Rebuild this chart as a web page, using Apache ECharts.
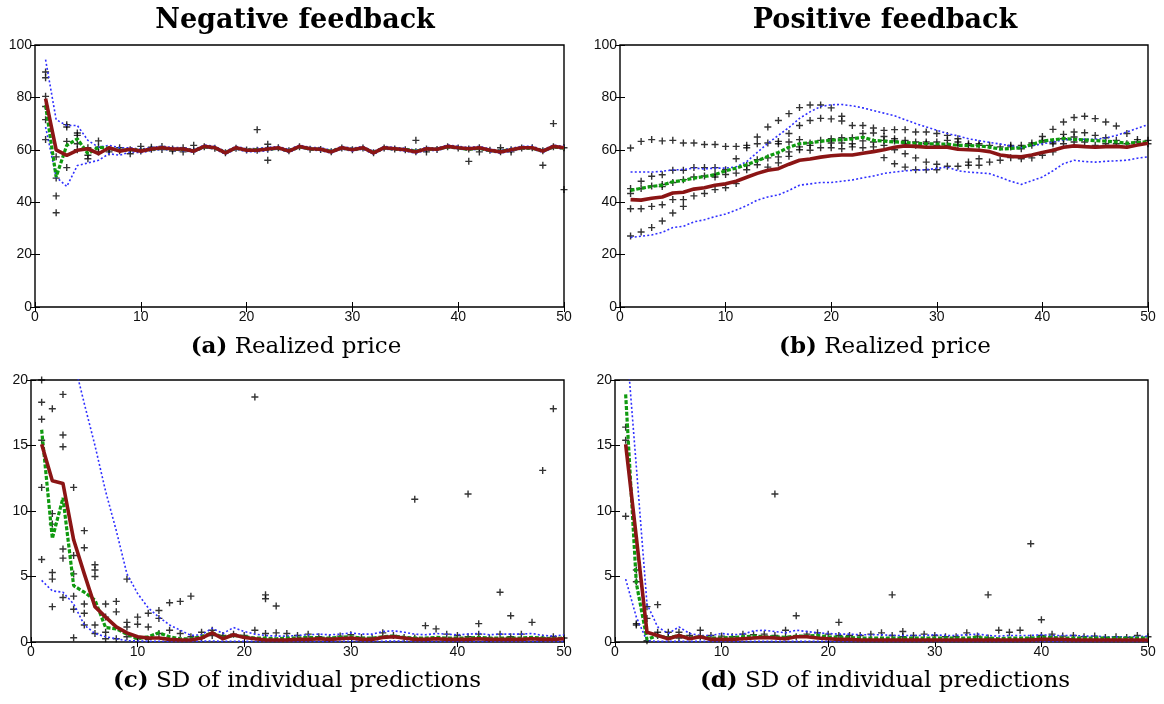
<!DOCTYPE html>
<html><head><meta charset="utf-8">
<script src="https://cdn.jsdelivr.net/npm/echarts@6/dist/echarts.min.js"></script>
<style>html,body{margin:0;padding:0;background:#fff}#c{width:1164px;height:704px}</style>
</head><body><div id="c"></div>
<script>
// ---------- DATA ----------
var periods = [1,2,3,4,5,6,7,8,9,10,11,12,13,14,15,16,17,18,19,20,21,22,23,24,25,26,27,28,29,30,31,32,33,34,35,36,37,38,39,40,41,42,43,44,45,46,47,48,49,50];
var xTicks = [0,10,20,30,40,50];
var priceTicks = [0,20,40,60,80,100];
var sdTicks = [0,5,10,15,20];

// (a) Negative feedback, realized price
var negPriceMedian = [79.5,60,57.9,59.8,60.4,58.5,60.8,59.5,60.2,59.5, 60.3,60.8,60.3,60.3,59.5,61.3,60.8,58.8,60.8,59.8, 59.8,60.3,60.8,59.5,61.3,60.4,60.2,59.2,60.8,60, 60.8,58.8,60.8,60.4,60,59.2,60.4,60.2,61.3,60.8, 60.4,60.8,59.8,59.2,60,60.8,60.8,59.5,61.3,60.8];
var negPriceMean   = [77,49.6,61.7,64.2,58.5,61,60.6,59.7,60.1,59.7, 60.2,60.6,60.2,60.2,59.6,61.1,60.7,59,60.6,59.9, 60.1,60.2,60.6,59.6,61.1,60.3,60.2,59.4,60.7,60.1, 60.7,59,60.7,60.3,60.1,59.5,60.3,60.2,61.1,60.7, 60.2,60.6,59.7,59.4,60.1,60.7,60.6,59.6,61.1,60.6];
var negPriceHigh   = [94.4,71.5,69.3,69.3,63.6,61,61.7,60.8,60.8,60.2, 60.9,61.3,60.9,60.8,60.1,61.8,61.3,59.4,61.3,60.4, 60.5,60.9,61.3,60.1,61.8,60.9,60.8,59.8,61.3,60.6, 61.3,59.4,61.3,60.9,60.6,59.8,60.9,60.7,61.8,61.3, 60.9,61.3,60.3,59.8,60.6,61.3,61.3,60,61.8,61.3];
var negPriceLow    = [68.7,49.6,46,54,55,56,58.5,57.9,59.2,58.9, 59.7,60.2,59.8,59.7,59,60.8,60.3,58.3,60.3,59.3, 59.3,59.7,60.3,59,60.8,59.9,59.7,58.7,60.3,59.5, 60.3,58.3,60.3,59.9,59.5,58.7,59.9,59.7,60.8,60.3, 59.9,60.3,59.3,58.7,59.5,60.3,60.3,59,60.8,60.3];
var negPricePoints = [[1,89.7],[1,87.5],[1,80.4],[1,71.5],[1,63.9],[1,76.5],[2,57.3],[2,49.2],[2,42.4],[2,36],[3,69.6],[3,68.7],[3,63.2],[3,53.2],[4,66.4],[4,65.5],[4,62.3],[4,60],[5,60.8],[5,57.9],[5,56.6],[6,63.4],[6,61],[6,59.2],[7,60],[7,59.2],[8,60.8],[8,59.6],[9,58.5],[9,60],[10,61.3],[10,59.5],[11,61],[11,60.2],[12,61.3],[12,60.1],[13,59.5],[13,60.3],[14,60.8],[14,59.2],[15,61.7],[15,59.4],[16,61.2],[17,60.6],[18,58.9],[19,60.6],[20,59.9],[21,67.7],[21,59.8],[22,62.1],[22,56],[22,60.2],[23,60.8],[24,59.6],[25,61.2],[26,60.2],[27,60.1],[28,59.3],[29,60.7],[30,60],[31,60.7],[32,58.9],[33,60.7],[34,60.3],[35,60],[36,63.6],[36,59.3],[37,59.2],[37,60.3],[38,60.1],[39,61.2],[40,60.7],[41,55.6],[41,60.3],[42,60.8],[42,59.2],[43,59.8],[44,60.8],[44,59.3],[45,59.2],[45,60],[46,60.7],[47,60.8],[48,54.1],[48,59.6],[49,70],[49,61.2],[50,44.8],[50,60.8]];

// (b) Positive feedback, realized price
var posPriceMedian = [41,40.8,41.5,42,43.5,43.8,45,45.5,46.5,47, 48,49.5,51,52.2,52.8,54.5,56,56.5,57.2,57.7, 58,58,58.7,59.3,60, 61,61.5,61.3,61,61, 61,60.2,60,59.8,59.3, 58,57.5,57.3,58,59, 59.8,61,61.5,61.2,61, 61.2,61.3,61,61.8,62.5];
var posPriceMean   = [44.5,45.3,46,46.5,47.8,48.3,49.2,49.8,50.5,52, 53,54.3,55.8,57.5,59,61,62.3,62.7,63.2,63.7, 63.8,64.2,64.8,63.6,63.3, 63,62.8,62.5,62.3,62.2, 62.2,61.7,61.6,61.5,61, 60.3,60.5,60.8,62,63.3, 63.8,64.3,64,63.8,63.5, 63.3,63,62.5,62.8,63];
var posPriceHigh   = [51.5,51.5,51.5,51.8,52.3,52.5,53,52.7,53,53, 53.5,55.5,59,62.5,65.5,68.5,72,74.5,76.5,77.2, 77.3,76.8,76,75,74, 73,71.5,70,68.7,67.5, 66.2,65.3,64.2,63.5,62.8, 62.2,61.5,60.8,61.5,62.3, 63,63.8,64,64,64, 64.5,65.5,66.8,68.2,69.6];
var posPriceLow    = [26.5,27,27.5,28.5,30.3,30.8,32.5,33.3,34.5,35.5, 37,38.7,40.8,42,42.8,44.5,46.5,47,47.5,47.5, 48,48.5,49.3,50,51, 51.5,52,52.2,52.4,52.9, 53.4,52,51.5,51.2,50.9, 49.5,48,46.8,48.2,49.6, 52,54.7,56,55.5,55.3, 55.6,55.8,56,56.8,57.3];
var posPricePoints = [[1,60.7],[1,45.2],[1,43.3],[1,37.5],[1,27.1],[2,63.2],[2,48],[2,45.2],[2,37.5],[2,28.6],[3,63.9],[3,49.9],[3,46.2],[3,38.4],[3,30.3],[4,63.4],[4,50.5],[4,46.8],[4,46],[4,39],[4,32.8],[5,63.6],[5,52.2],[5,47.5],[5,41],[5,35.9],[6,62.6],[6,52.2],[6,48.6],[6,41],[6,38.4],[7,62.6],[7,53.2],[7,49.6],[7,42.4],[8,62],[8,53.2],[8,50],[8,43.3],[9,62],[9,53.2],[9,50.6],[9,49.6],[9,44.8],[10,61.3],[10,52.4],[10,50.6],[10,45.5],[11,61.3],[11,56.6],[11,51.1],[11,47.1],[12,61.7],[12,60.8],[12,54],[12,52.4],[13,64.9],[13,62.3],[13,56.2],[13,54.3],[14,68.7],[14,62.6],[14,56.9],[14,53.4],[15,71.2],[15,63.2],[15,62.3],[15,57.3],[15,55],[16,73.8],[16,66.2],[16,63],[16,59.2],[16,57.5],[17,76.1],[17,69.3],[17,63.9],[17,61.1],[17,60],[18,77.1],[18,71.2],[18,62.6],[18,61.7],[18,59.8],[19,77.1],[19,72],[19,63.6],[19,60.8],[20,76],[20,71.8],[20,64.2],[20,62.6],[20,60.8],[21,72.8],[21,71],[21,64.6],[21,62.6],[21,60.4],[22,69.3],[22,64.6],[22,62.3],[22,61.1],[23,69.3],[23,66.2],[23,63.4],[23,60.8],[24,68.3],[24,66.4],[24,63],[24,61.1],[25,67.4],[25,65.1],[25,63.6],[25,61.7],[25,57],[26,67.7],[26,64.2],[26,63.4],[26,60],[26,54.7],[27,67.7],[27,63.6],[27,62.3],[27,58.5],[27,53.4],[28,66.8],[28,63],[28,61.7],[28,56.9],[28,52.4],[29,66.8],[29,63],[29,62.3],[29,55.3],[29,52.4],[30,66.2],[30,63],[30,61.7],[30,54.5],[30,52.4],[31,65.5],[31,63.6],[31,61.7],[31,53.7],[32,64.2],[32,63],[32,61.7],[32,53.7],[33,62.3],[33,61.7],[33,55.3],[33,54.1],[34,62.3],[34,61.7],[34,56.6],[34,54.1],[35,61.7],[35,55.3],[36,61.1],[36,56],[37,61.7],[37,61.1],[37,57],[38,61.7],[38,60.4],[38,56.6],[39,62.6],[39,61.7],[39,56.9],[40,65.1],[40,63.6],[40,63],[40,57.9],[41,67.8],[41,63],[41,62.3],[41,59.2],[42,70.6],[42,65.9],[42,64.2],[42,62.3],[43,72.3],[43,66.8],[43,64.9],[43,63],[44,72.8],[44,66.5],[44,63],[45,71.9],[45,65.5],[45,61.7],[46,70.6],[46,64.6],[46,62.3],[47,69.1],[47,63.6],[47,62.3],[48,66.2],[48,62.3],[49,63.9],[49,63],[50,63.6],[50,62.3]];

// (c) Negative feedback, SD of individual predictions
var negSdMedian = [15.1,12.3,12.1,7.8,5.2,2.7,1.9,1.15,0.7,0.4, 0.3,0.3,0.2,0.15,0.15,0.3,0.7,0.25,0.55,0.35, 0.25,0.15,0.15,0.15,0.2, 0.2,0.25,0.2,0.25,0.3, 0.2,0.2,0.35,0.4,0.3, 0.2,0.2,0.25,0.2,0.2, 0.2,0.25,0.2,0.2,0.2, 0.2,0.25,0.2,0.2,0.25];
var negSdMean   = [16.2,7.9,11,4.3,3.8,3.2,1.1,1,0.6,0.25, 0.4,0.7,0.4,0.25,0.25,0.4,0.7,0.35,0.5,0.4, 0.3,0.3,0.25,0.3,0.3, 0.35,0.3,0.3,0.35,0.4, 0.3,0.3,0.4,0.45,0.35, 0.3,0.3,0.35,0.3,0.3, 0.3,0.35,0.3,0.3,0.3, 0.3,0.35,0.3,0.25,0.3];
var negSdHigh   = [30,27,24.5,21.5,18.2,15,11.5,8.5,5.2,3.7, 2.6,1.9,1.3,0.9,0.5,0.55,1.05,0.65,1.1,0.8, 0.6,0.5,0.45,0.45,0.5, 0.55,0.6,0.55,0.6,0.7, 0.6,0.6,0.8,0.85,0.75, 0.6,0.55,0.65,0.6,0.55, 0.6,0.65,0.55,0.6,0.6, 0.6,0.65,0.5,0.45,0.55];
var negSdLow    = [4.7,3.9,3.8,2.9,1.3,0.65,0.4,0.25,0.1,0.08, 0.06,0.06,0.05,0.05,0.05,0.06,0.08,0.05,0.06,0.05, 0.05,0.05,0.05,0.05,0.05, 0.05,0.05,0.05,0.05,0.06, 0.05,0.05,0.06,0.07,0.06, 0.05,0.05,0.05,0.05,0.05, 0.05,0.05,0.05,0.05,0.05, 0.05,0.05,0.05,0.05,0.05];
var negSdPoints = [[1,20],[1,18.3],[1,17],[1,15.4],[1,11.8],[1,6.3],[2,17.8],[2,9.8],[2,9],[2,5.3],[2,4.8],[2,2.7],[3,18.9],[3,15.8],[3,14.9],[3,7.1],[3,6.4],[3,3.4],[4,11.8],[4,6.6],[4,5.2],[4,3.5],[4,2.5],[4,0.33],[5,8.5],[5,7.2],[5,2.9],[5,2.2],[5,1.3],[6,5.9],[6,5.5],[6,5],[6,1.3],[6,0.65],[7,2.9],[7,1.9],[7,0.75],[7,0.25],[8,3.1],[8,2.3],[8,0.25],[9,4.8],[9,1.5],[9,1.15],[9,0.4],[10,1.9],[10,1.35],[10,0.25],[11,2.2],[11,1.15],[11,0.2],[12,2.4],[12,1.8],[12,0.65],[13,3],[13,0.9],[14,3.1],[14,0.65],[15,3.5],[15,0.4],[16,0.75],[16,0.3],[17,0.9],[17,0.5],[18,0.5],[19,0.6],[20,0.5],[21,18.7],[21,0.9],[22,3.6],[22,3.3],[22,0.65],[23,2.75],[23,0.7],[24,0.65],[25,0.5],[26,0.6],[27,0.4],[28,0.3],[29,0.45],[30,0.55],[31,0.35],[32,0.3],[33,0.7],[34,0.5],[35,0.35],[36,10.9],[36,0.3],[37,1.25],[38,1],[39,0.6],[40,0.5],[41,11.3],[41,0.4],[42,1.4],[42,0.6],[43,0.3],[44,3.8],[44,0.6],[45,2],[45,0.4],[46,0.6],[47,1.5],[48,13.1],[48,0.3],[49,17.8],[49,0.4],[50,0.3]];

// (d) Positive feedback, SD of individual predictions
var posSdMedian = [15.1,8,0.75,0.5,0.25,0.5,0.25,0.4,0.2,0.2, 0.2,0.25,0.3,0.35,0.3,0.25,0.4,0.4,0.3,0.25, 0.2,0.2,0.15,0.15,0.15, 0.15,0.15,0.15,0.15,0.15, 0.15,0.15,0.15,0.15,0.15, 0.15,0.15,0.15,0.15,0.2, 0.2,0.2,0.15,0.15,0.15, 0.15,0.15,0.15,0.15,0.15];
var posSdMean   = [18.9,4.5,0.2,0.5,0.3,0.5,0.3,0.4,0.3,0.3, 0.35,0.4,0.45,0.4,0.4,0.35,0.45,0.45,0.5,0.4, 0.35,0.35,0.3,0.3,0.3, 0.3,0.3,0.3,0.3,0.3, 0.3,0.3,0.3,0.35,0.3, 0.25,0.3,0.3,0.3,0.35, 0.35,0.3,0.3,0.3,0.3, 0.3,0.3,0.3,0.3,0.3];
var posSdHigh   = [23.7,13.4,2.9,1.15,0.65,1.15,0.65,0.5,0.5,0.65, 0.55,0.6,0.85,0.9,0.8,0.7,0.9,0.8,0.7,0.65, 0.6,0.6,0.55,0.55,0.55, 0.5,0.5,0.5,0.5,0.55, 0.5,0.5,0.55,0.6,0.5, 0.45,0.5,0.5,0.5,0.55, 0.5,0.5,0.5,0.45,0.45, 0.4,0.4,0.4,0.4,0.45];
var posSdLow    = [4.8,1.9,0.1,0.05,0.05,0.05,0.05,0.05,0.05,0.05, 0.05,0.05,0.05,0.05,0.05,0.05,0.05,0.05,0.05,0.05, 0.05,0.05,0.05,0.05,0.05, 0.05,0.05,0.05,0.05,0.05, 0.05,0.05,0.05,0.05,0.05, 0.05,0.05,0.05,0.05,0.05, 0.05,0.05,0.05,0.05,0.05, 0.05,0.05,0.05,0.05,0.05];
var posSdPoints = [[1,16.4],[1,15.4],[1,9.6],[2,5.5],[2,4.6],[2,1.4],[2,1.3],[3,2.7],[3,1.8],[3,0.1],[4,2.85],[4,0.75],[4,0.5],[5,0.75],[5,0.4],[6,0.75],[6,0.3],[7,0.5],[8,0.9],[8,0.4],[9,0.5],[10,0.45],[11,0.4],[12,0.6],[13,0.55],[14,0.6],[15,11.3],[15,0.5],[16,0.9],[16,0.4],[17,2],[17,0.4],[18,0.6],[19,0.7],[20,0.6],[21,1.5],[21,0.5],[22,0.5],[23,0.5],[24,0.6],[25,0.7],[26,3.6],[26,0.5],[27,0.8],[27,0.4],[28,0.5],[29,0.6],[30,0.5],[31,0.4],[32,0.4],[33,0.7],[34,0.45],[35,3.6],[35,0.3],[36,0.9],[37,0.75],[38,0.9],[39,7.5],[39,0.3],[40,1.7],[40,0.5],[41,0.6],[42,0.45],[43,0.5],[44,0.4],[45,0.45],[46,0.35],[47,0.4],[48,0.35],[49,0.5],[50,0.4]];

// ---------- CHART ----------
var chart = echarts.init(document.getElementById('c'), null, {renderer:'canvas'});
function pair(v){ return v.map(function(y,i){ return [periods[i], y]; }); }
var plus = 'path://M2.8,0H4.2V2.8H7V4.2H4.2V7H2.8V4.2H0V2.8H2.8Z';
var grids = [
  {left:35, top:45, width:529, height:262},
  {left:620, top:45, width:528, height:262},
  {left:31, top:380, width:533, height:262},
  {left:615, top:380, width:533, height:262}
];
var panels = [
  {pts:negPricePoints, hi:negPriceHigh, lo:negPriceLow, mean:negPriceMean, med:negPriceMedian, ticks:priceTicks},
  {pts:posPricePoints, hi:posPriceHigh, lo:posPriceLow, mean:posPriceMean, med:posPriceMedian, ticks:priceTicks},
  {pts:negSdPoints, hi:negSdHigh, lo:negSdLow, mean:negSdMean, med:negSdMedian, ticks:sdTicks},
  {pts:posSdPoints, hi:posSdHigh, lo:posSdLow, mean:posSdMean, med:posSdMedian, ticks:sdTicks}
];
var labelFont = {fontFamily:'Liberation Sans', fontSize:14, color:'#111'};
var xAxes=[], yAxes=[], series=[];
panels.forEach(function(p,i){
  var ymax = p.ticks[p.ticks.length-1], yint = p.ticks[1]-p.ticks[0];
  xAxes.push({gridIndex:i, type:'value', min:xTicks[0], max:xTicks[xTicks.length-1], interval:xTicks[1]-xTicks[0], position:'bottom',
    axisLine:{show:false}, axisTick:{show:true, inside:true, length:5, lineStyle:{color:'#000'}}, splitLine:{show:false},
    axisLabel:Object.assign({margin:3}, labelFont)});
  yAxes.push({gridIndex:i, type:'value', min:p.ticks[0], max:ymax, interval:yint, position:'left',
    axisLine:{show:false}, axisTick:{show:true, inside:true, length:5, lineStyle:{color:'#000'}}, splitLine:{show:false},
    axisLabel:Object.assign({margin:3}, labelFont)});
});
panels.forEach(function(p,i){
  var ymax = p.ticks[p.ticks.length-1], yint = p.ticks[1]-p.ticks[0];
  xAxes.push({gridIndex:i, type:'value', min:xTicks[0], max:xTicks[xTicks.length-1], interval:xTicks[1]-xTicks[0], position:'top',
    axisLine:{show:false}, axisTick:{show:true, inside:true, length:5, lineStyle:{color:'#000'}}, splitLine:{show:false}, axisLabel:{show:false}});
  yAxes.push({gridIndex:i, type:'value', min:p.ticks[0], max:ymax, interval:yint, position:'right',
    axisLine:{show:false}, axisTick:{show:true, inside:true, length:5, lineStyle:{color:'#000'}}, splitLine:{show:false}, axisLabel:{show:false}});
});
panels.forEach(function(p,i){
  series.push({type:'scatter', xAxisIndex:i, yAxisIndex:i, data:p.pts, symbol:plus, symbolSize:7, itemStyle:{color:'#000'}, silent:true, z:2});
  [p.hi, p.lo].forEach(function(b){
    series.push({type:'line', xAxisIndex:i, yAxisIndex:i, data:pair(b), showSymbol:false, symbol:'none', clip:true,
      lineStyle:{color:'#2f2fff', width:1.6, type:[2,2.2]}, z:3, silent:true});
  });
  series.push({type:'line', xAxisIndex:i, yAxisIndex:i, data:pair(p.mean), showSymbol:false, symbol:'none', clip:true,
    lineStyle:{color:'#0f9a0f', width:3.2, type:[4,1.8]}, z:4, silent:true});
  series.push({type:'line', xAxisIndex:i, yAxisIndex:i, data:pair(p.med), showSymbol:false, symbol:'none', clip:true,
    lineStyle:{color:'#8b1515', width:3.6, join:'round'}, z:5, silent:true});
});
var serif = 'DejaVu Serif';
function caption(letter, txt, x, y){
  return {text:'{b|(' + letter + ')} {r|' + txt + '}', left:x, top:y, textAlign:'center',
    textStyle:{fontWeight:'normal', fontSize:23, fontFamily:serif,
      rich:{b:{fontFamily:serif, fontWeight:'bold', fontSize:23, color:'#000'}, r:{fontFamily:serif, fontWeight:'normal', fontSize:23, color:'#000'}}}};
}
var option = {
  animation:false,
  backgroundColor:'#fff',
  grid: grids.map(function(g){ return Object.assign({show:true, borderColor:'#000', borderWidth:1.4, backgroundColor:'transparent'}, g); }),
  xAxis:xAxes, yAxis:yAxes, series:series,
  title:[
    {text:'Negative feedback', left:290, top:2, textAlign:'center', textStyle:{fontFamily:serif, fontWeight:'bold', fontSize:27, color:'#000'}},
    {text:'Positive feedback', left:880, top:2, textAlign:'center', textStyle:{fontFamily:serif, fontWeight:'bold', fontSize:27, color:'#000'}},
    caption('a','Realized price',291,331),
    caption('b','Realized price',880,331),
    caption('c','SD of individual predictions',292,665),
    caption('d','SD of individual predictions',880,665)
  ]
};
chart.setOption(option);
</script></body></html>
